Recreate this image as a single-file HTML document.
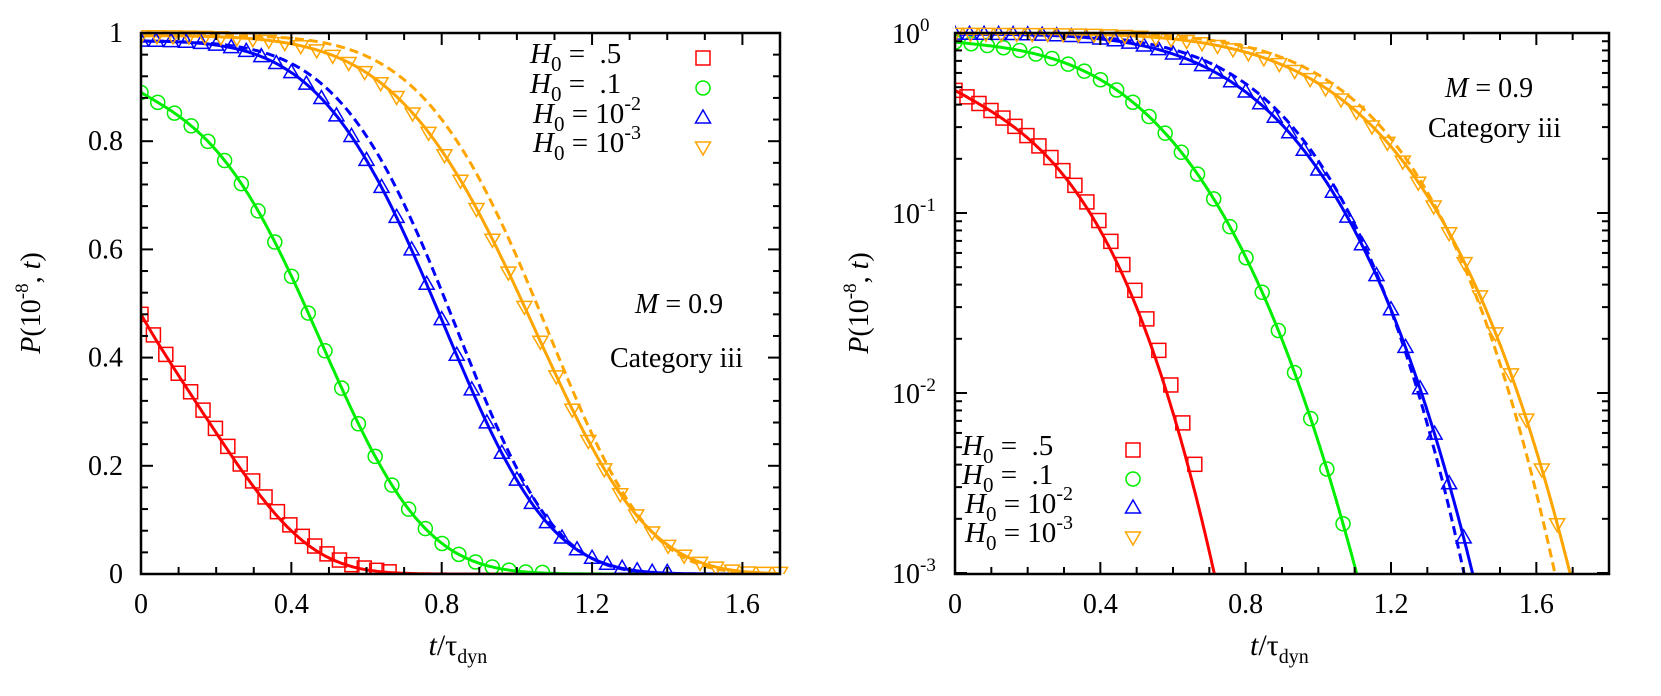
<!DOCTYPE html>
<html><head><meta charset="utf-8">
<style>
html,body{margin:0;padding:0;background:#fff;}
svg{display:block;}
text{font-family:"Liberation Serif",serif;fill:#000;}
</style></head>
<body>
<svg id="s" width="1661" height="696" xmlns="http://www.w3.org/2000/svg"></svg>
<script>
const NS="http://www.w3.org/2000/svg";
const S=document.getElementById('s');
function el(tag,attrs,parent){const e=document.createElementNS(NS,tag);for(const k in attrs)e.setAttribute(k,attrs[k]);(parent||S).appendChild(e);return e;}
function txt(x,y,html,attrs){const t=el('text',Object.assign({x:x,y:y},attrs||{}));t.innerHTML=html;return t;}

const curves={
 red:{c:'#ff0000',A:0.48,f:t=>2.57*t+11.96*t*t*t},
 green:{c:'#00ee00',A:0.89,f:t=>0.454*t+4.66*t*t*t},
 blue:{c:'#0000ff',A:0.985,f:t=>0.122*t*t+1.615*Math.pow(t,4)},
 blueD:{c:'#0000ff',A:0.985,f:t=>0.1*t*t+1.52*Math.pow(t,4.4)},
 orange:{c:'#ffa500',A:0.995,f:t=>0.04*t*t+0.60*Math.pow(t,4.61)},
 orangeD:{c:'#ffa500',A:0.995,f:t=>0.53*Math.pow(t,5.12)}
};
function P(cv,t){return cv.A*Math.exp(-cv.f(Math.max(t,0)));}

function plot(x0,x1,xmax,log){
 const y0=33,y1=574;
 const sx=t=>x0+(x1-x0)*t/xmax;
 const sy=log?(p=>y0+180*(-Math.log10(p))):(p=>y1-(y1-y0)*p);
 const g=el('g',{});
 const clip='c'+x0;
 const d=el('defs',{},g);const cp=el('clipPath',{id:clip},d);el('rect',{x:x0,y:y0-12,width:x1-x0+12,height:y1-y0+12},cp);
 const dg=el('g',{'clip-path':'url(#'+clip+')'},g);
 const series=[['red',0],['green',0],['blueD',1],['blue',0],['orangeD',1],['orange',0]];
 for(const [k,dash] of series){
  const cv=curves[k];let pts=[];
  for(let t=0;t<=xmax;t+=0.004){const p=P(cv,t);if(log&&p<8e-4){pts.push(sx(t).toFixed(1)+','+sy(8e-4).toFixed(1));break;}pts.push(sx(t).toFixed(1)+','+sy(p).toFixed(1));}
  el('polyline',{points:pts.join(' '),fill:'none',stroke:cv.c,'stroke-width':3,'stroke-dasharray':dash?'9,5':'none'},dg);
 }
 const mk=[['red',0.033,0.66,'sq',0.97],['green',0.0445,1.07,'ci',1.0],['blue',0.04,1.42,'tu',1.0],['orange',0.0425,1.70,'td',1.0]];
 for(const [k,dt,tmax,shape,sc] of mk){
  const cv=curves[k];
  for(let t=0;t<=tmax+1e-6;t+=dt){
   let p=P(cv,t*sc);
   if(!log&&p<0.003)p=0.003;
   if(log&&p<1e-3)continue;
   drawM(dg,shape,sx(t),sy(p),cv.c);
  }
 }
 el('rect',{x:x0,y:y0,width:x1-x0,height:y1-y0,fill:'none',stroke:'#000','stroke-width':2.5},g);
 for(let i=0;i<=Math.round(xmax*10);i++){const t=i/10,X=sx(t);const L=(i%4==0)?12:7;
  el('line',{x1:X,y1:y1,x2:X,y2:y1-L,stroke:'#000','stroke-width':2},g);
  el('line',{x1:X,y1:y0,x2:X,y2:y0+L,stroke:'#000','stroke-width':2},g);
  if(i%4==0)txt(X,613,(t==0?'0':t.toFixed(1)),{'font-size':28,'text-anchor':'middle'});
 }
 if(!log){
  for(let i=0;i<=25;i++){const p=i*0.04,Y=sy(p);const L=(i%5==0)?12:7;
   el('line',{x1:x0,y1:Y,x2:x0+L,y2:Y,stroke:'#000','stroke-width':2},g);
   el('line',{x1:x1,y1:Y,x2:x1-L,y2:Y,stroke:'#000','stroke-width':2},g);
   if(i%5==0)txt(x0-18,Y+9,(p==0?'0':(p==1?'1':p.toFixed(1))),{'font-size':28,'text-anchor':'end'});
  }
 } else {
  for(let dec=0;dec>=-3;dec--){
   for(let m=1;m<=9;m++){const p=m*Math.pow(10,dec-1);if(p<1e-3||p>1)continue;const Y=sy(p);const L=(m==1)?12:7;
    el('line',{x1:x0,y1:Y,x2:x0+L,y2:Y,stroke:'#000','stroke-width':2},g);
    el('line',{x1:x1,y1:Y,x2:x1-L,y2:Y,stroke:'#000','stroke-width':2},g);}
   const Y=sy(Math.pow(10,dec));
   txt(x0-63,Y+10,'10<tspan dy="-12" font-size="19">'+(dec==0?'0':dec)+'</tspan>',{'font-size':28});
  }
 }
 const cx=(x0+x1)/2;
 txt(cx-32,655,'<tspan font-style="italic">t</tspan>/τ<tspan dy="8" font-size="20">dyn</tspan>',{'font-size':30});
 const ylx=log?858:30;
 txt(0,0,'<tspan font-style="italic">P</tspan>(10<tspan dy="-12" font-size="19">-8</tspan><tspan dy="12">, </tspan><tspan font-style="italic">t</tspan>)',{'font-size':28,'text-anchor':'middle',transform:'translate('+(ylx+10)+',303) rotate(-90)'});
}
function drawM(g,shape,X,Y,c){
 const a={fill:'none',stroke:c,'stroke-width':1.5};
 if(shape=='sq')el('rect',Object.assign({x:X-7,y:Y-7,width:14,height:14},a),g);
 else if(shape=='ci')el('circle',Object.assign({cx:X,cy:Y,r:7},a),g);
 else if(shape=='tu')el('polygon',Object.assign({points:`${X},${Y-8} ${X-7.5},${Y+5} ${X+7.5},${Y+5}`},a),g);
 else el('polygon',Object.assign({points:`${X},${Y+8} ${X-7.5},${Y-5} ${X+7.5},${Y-5}`},a),g);
}
plot(141,780,1.7,false);
plot(955,1609,1.8,true);

function legend(x,ys,mx){
 const vals=['=&#160;&#160;.5','=&#160;&#160;.1','= 10<tspan dy="-13" font-size="20">-2</tspan>','= 10<tspan dy="-13" font-size="20">-3</tspan>'];
 const sh=['sq','ci','tu','td'],cs=['#ff0000','#00ee00','#0000ff','#ffa500'];
 for(let i=0;i<4;i++){
  txt(x+(i>1?3:0),ys[i],'<tspan font-style="italic">H</tspan><tspan dy="8" font-size="21">0</tspan><tspan dy="-8"> '+vals[i]+'</tspan>',{'font-size':29});
  drawM(S,sh[i],mx,ys[i]-5,cs[i]);
 }
}
legend(530,[63,93,123,152],703);
legend(962,[455,484,513,542],1133);

txt(635,313,'<tspan font-style="italic">M</tspan> = 0.9',{'font-size':28});
txt(610,367,'Category iii',{'font-size':28});
txt(1445,97,'<tspan font-style="italic">M</tspan> = 0.9',{'font-size':28});
txt(1428,137,'Category iii',{'font-size':28});
</script>
</body></html>
